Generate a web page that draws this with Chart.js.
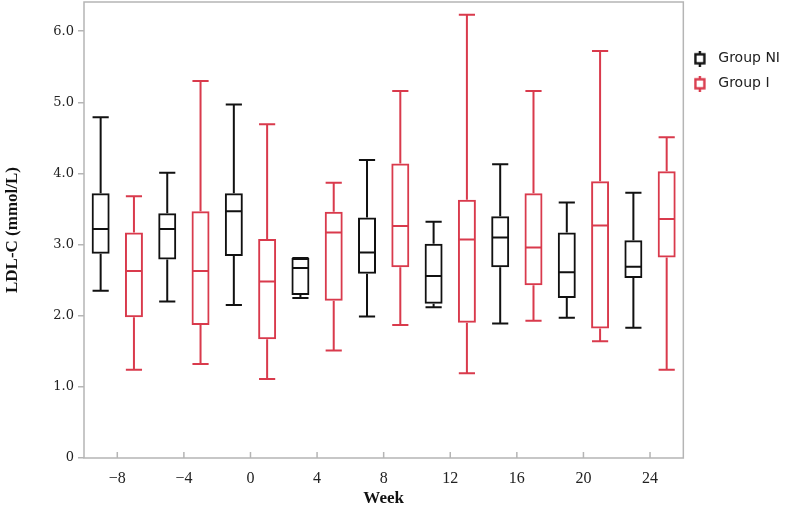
<!DOCTYPE html>
<html>
<head>
<meta charset="utf-8">
<script src="https://cdn.jsdelivr.net/npm/chart.js@4.4.0/dist/chart.umd.min.js"></script>
<style>
html, body { margin: 0; padding: 0; background: #fff; }
#wrap { width: 787px; height: 509px; }
</style>
</head>
<body>
<div id="wrap"><canvas id="canvas"></canvas></div>
<script>
var WEEKS = ['\u22128', '\u22124', '0', '4', '8', '12', '16', '20', '24'];

// Group NI (black)
var NI_MIN = [2.35, 2.20, 2.15, 2.25, 1.99, 2.12, 1.89, 1.97, 1.83];
var NI_Q1  = [2.87, 2.79, 2.84, 2.29, 2.59, 2.17, 2.68, 2.25, 2.53];
var NI_MED = [3.22, 3.22, 3.47, 2.67, 2.89, 2.56, 3.10, 2.61, 2.69];
var NI_Q3  = [3.72, 3.44, 3.72, 2.81, 3.38, 3.01, 3.40, 3.17, 3.06];
var NI_MAX = [4.79, 4.01, 4.97, 2.81, 4.19, 3.32, 4.13, 3.59, 3.73];

// Group I (red)
var I_MIN = [1.24, 1.32, 1.11, 1.51, 1.87, 1.19, 1.93, 1.64, 1.24];
var I_Q1  = [1.98, 1.87, 1.67, 2.21, 2.68, 1.90, 2.43, 1.82, 2.82];
var I_MED = [2.63, 2.63, 2.48, 3.17, 3.26, 3.07, 2.96, 3.27, 3.36];
var I_Q3  = [3.17, 3.47, 3.08, 3.46, 4.14, 3.63, 3.72, 3.89, 4.03];
var I_MAX = [3.68, 5.30, 4.69, 3.87, 5.16, 6.23, 5.16, 5.72, 4.51];

var Y_TICKS = [0, 1, 2, 3, 4, 5, 6];

var BLACK = '#111111';
var RED = '#d93a4c';

var GROUPS = [
    { label: 'Group NI', color: BLACK, min: NI_MIN, q1: NI_Q1, med: NI_MED, q3: NI_Q3, max: NI_MAX },
    { label: 'Group I', color: RED, min: I_MIN, q1: I_Q1, med: I_MED, q3: I_Q3, max: I_MAX }
];

// small box-plot glyph for the legend (drawn left of the canvas centre)
function makeIcon(color) {
    var c = document.createElement('canvas');
    c.width = 18; c.height = 16;
    var g = c.getContext('2d');
    g.strokeStyle = color;
    g.lineWidth = 2.4;
    g.strokeRect(1.5, 3.5, 9, 9);
    g.beginPath();
    g.moveTo(6, 0); g.lineTo(6, 3.5);
    g.moveTo(6, 12.5); g.lineTo(6, 16);
    g.stroke();
    return c;
}
var ICONS = [makeIcon(BLACK), makeIcon(RED)];

var boxPlugin = {
    id: 'boxes',
    beforeDatasetsDraw: function(chart) {
        var a = chart.chartArea, ctx = chart.ctx;
        ctx.save();
        ctx.strokeStyle = '#b5b5b5';
        ctx.lineWidth = 1.5;
        ctx.strokeRect(a.left, a.top, a.right - a.left, a.bottom - a.top);
        // x ticks point inward
        var xs = chart.scales.x;
        ctx.beginPath();
        for (var i = 0; i < WEEKS.length; i++) {
            var px = xs.getPixelForTick(i);
            ctx.moveTo(px, a.bottom);
            ctx.lineTo(px, a.bottom - 6);
        }
        ctx.stroke();
        ctx.restore();
    },
    afterDatasetsDraw: function(chart) {
        var ctx = chart.ctx, ys = chart.scales.y;
        GROUPS.forEach(function(g, i) {
            var meta = chart.getDatasetMeta(i);
            meta.data.forEach(function(bar, j) {
                var cx = bar.x, half = bar.width / 2, cap = half * 0.9;
                var yMax = ys.getPixelForValue(g.max[j]);
                var yMin = ys.getPixelForValue(g.min[j]);
                var yQ1 = ys.getPixelForValue(g.q1[j]);
                var yQ3 = ys.getPixelForValue(g.q3[j]);
                var yMed = ys.getPixelForValue(g.med[j]);
                ctx.save();
                ctx.strokeStyle = g.color;
                ctx.lineWidth = 2;
                ctx.beginPath();
                ctx.moveTo(cx, yQ3); ctx.lineTo(cx, yMax);
                ctx.moveTo(cx - cap, yMax); ctx.lineTo(cx + cap, yMax);
                ctx.moveTo(cx, yQ1); ctx.lineTo(cx, yMin);
                ctx.moveTo(cx - cap, yMin); ctx.lineTo(cx + cap, yMin);
                ctx.moveTo(cx - half + 1, yMed); ctx.lineTo(cx + half - 1, yMed);
                ctx.stroke();
                ctx.restore();
            });
        });
    }
};

var chartData = {
    labels: WEEKS,
    datasets: GROUPS.map(function(g) {
        return {
            label: g.label,
            data: g.q1.map(function(v, j) { return [v, g.q3[j]]; }),
            backgroundColor: 'rgba(255,255,255,0)',
            borderColor: g.color,
            borderWidth: 2,
            borderSkipped: false,
            categoryPercentage: 1.0,
            barPercentage: 0.54
        };
    })
};

window.onload = function() {
    var ctx = document.getElementById('canvas').getContext('2d');
    window.myChart = new Chart(ctx, {
        type: 'bar',
        data: chartData,
        plugins: [boxPlugin],
        options: {
            responsive: true,
            maintainAspectRatio: false,
            animation: false,
            layout: { padding: { left: 2, top: 2, right: -3, bottom: 0 } },
            plugins: {
                tooltip: { enabled: false },
                legend: {
                    position: 'right',
                    align: 'start',
                    title: { display: true, text: ' ', font: { size: 4 }, padding: { top: 34, bottom: 0 } },
                    labels: {
                        usePointStyle: true,
                        pointStyleWidth: 17,
                        boxWidth: 17,
                        padding: 11,
                        color: '#222',
                        font: { family: 'DejaVu Sans', size: 14 },
                        generateLabels: function(chart) {
                            return chart.data.datasets.map(function(ds, i) {
                                return {
                                    text: ds.label,
                                    pointStyle: ICONS[i],
                                    fillStyle: 'transparent',
                                    strokeStyle: 'transparent',
                                    lineWidth: 0,
                                    fontColor: '#222',
                                    hidden: false,
                                    datasetIndex: i
                                };
                            });
                        }
                    }
                }
            },
            scales: {
                x: {
                    grid: { display: false },
                    border: { display: false },
                    afterFit: function(scale) { scale.height = 51; },
                    ticks: {
                        color: '#222',
                        padding: 3,
                        font: { family: 'Liberation Serif', size: 16 }
                    },
                    title: {
                        display: true,
                        text: 'Week',
                        color: '#111',
                        font: { family: 'Liberation Serif', size: 17, weight: 'bold' },
                        padding: { top: 0, bottom: 0 }
                    }
                },
                y: {
                    min: 0,
                    max: 6.41,
                    afterBuildTicks: function(scale) {
                        scale.ticks = Y_TICKS.map(function(v) { return { value: v }; });
                    },
                    afterFit: function(scale) {
                        scale.width = 82;
                        scale.paddingTop = 0;
                        scale.paddingBottom = 0;
                    },
                    grid: { drawOnChartArea: false, color: '#b5b5b5', tickLength: 6, lineWidth: 1.5 },
                    border: { display: false },
                    ticks: {
                        color: '#222',
                        padding: 4,
                        font: { family: 'DejaVu Serif', size: 13 },
                        callback: function(v) { return v === 0 ? '0' : Number(v).toFixed(1); }
                    },
                    title: {
                        display: true,
                        text: 'LDL-C (mmol/L)',
                        color: '#111',
                        font: { family: 'Liberation Serif', size: 17, weight: 'bold' },
                        padding: { top: 0, bottom: 0 }
                    }
                }
            }
        }
    });
};
</script>
</body>
</html>
